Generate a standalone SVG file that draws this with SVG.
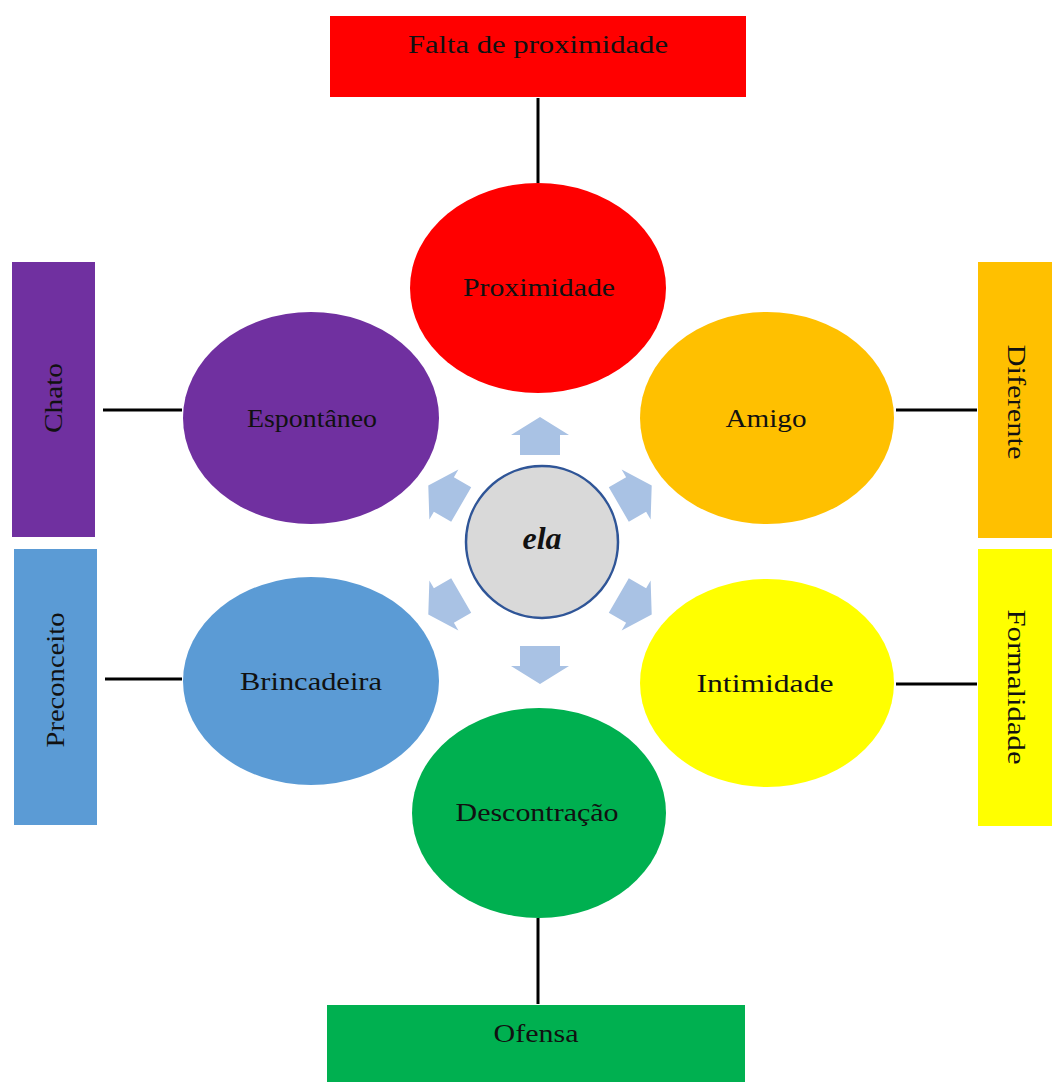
<svg xmlns="http://www.w3.org/2000/svg" width="1052" height="1082" viewBox="0 0 1052 1082">
<style>
text{font-family:"Liberation Serif","Times New Roman",serif;font-size:25px;text-anchor:middle;dominant-baseline:central;fill:#111}
.conn line{stroke:#000;stroke-width:3}
.arr{fill:#a9c2e4}
</style>
<defs>
<path id="arrow" d="M0,-19 L29,-1 L20,-1 L20,19 L-20,19 L-20,-1 L-29,-1 Z"/>
</defs>
<rect width="1052" height="1082" fill="#fff"/>
<g class="conn">
<line x1="538" y1="98" x2="538" y2="183"/>
<line x1="538" y1="918" x2="538" y2="1004"/>
<line x1="103" y1="410" x2="182" y2="410"/>
<line x1="105" y1="679" x2="182" y2="679"/>
<line x1="896" y1="410" x2="977" y2="410"/>
<line x1="896" y1="684" x2="977" y2="684"/>
</g>
<g id="arrows" class="arr">
<use href="#arrow" transform="translate(540,550) rotate(0) translate(0,-114)"/>
<use href="#arrow" transform="translate(540,550) rotate(60) translate(0,-110)"/>
<use href="#arrow" transform="translate(540,550) rotate(120) translate(0,-110)"/>
<use href="#arrow" transform="translate(540,550) rotate(180) translate(0,-115)"/>
<use href="#arrow" transform="translate(540,550) rotate(240) translate(0,-110)"/>
<use href="#arrow" transform="translate(540,550) rotate(300) translate(0,-110)"/>
</g>
<g id="falta"><rect x="330" y="16" width="416" height="81" fill="#ff0000"/><text x="538" y="44" fill="#4a0000" textLength="260" lengthAdjust="spacingAndGlyphs">Falta de proximidade</text></g>
<g id="ofensa"><rect x="327" y="1005" width="418" height="77" fill="#00b050"/><text x="536" y="1033" fill="#0b3d1c" textLength="85" lengthAdjust="spacingAndGlyphs">Ofensa</text></g>
<g id="chato"><rect x="12" y="262" width="83" height="275" fill="#7030a0"/><text transform="translate(53,398) rotate(-90)" fill="#3a1458" textLength="70" lengthAdjust="spacingAndGlyphs">Chato</text></g>
<g id="preconceito"><rect x="14" y="549" width="83" height="276" fill="#5b9bd5"/><text transform="translate(55,680) rotate(-90)" fill="#1c2a44" textLength="135" lengthAdjust="spacingAndGlyphs">Preconceito</text></g>
<g id="diferente"><rect x="978" y="262" width="74" height="276" fill="#ffc000"/><text transform="translate(1016,402) rotate(90)" fill="#2a1c00" textLength="115" lengthAdjust="spacingAndGlyphs">Diferente</text></g>
<g id="formalidade"><rect x="978" y="549" width="74" height="277" fill="#ffff00"/><text transform="translate(1016,687) rotate(90)" fill="#222" textLength="155" lengthAdjust="spacingAndGlyphs">Formalidade</text></g>
<g id="proximidade"><ellipse cx="538" cy="288" rx="128" ry="105" fill="#ff0000"/><text x="539" y="287" fill="#3a0000" textLength="152" lengthAdjust="spacingAndGlyphs">Proximidade</text></g>
<g id="espontaneo"><ellipse cx="311" cy="418" rx="128" ry="106" fill="#7030a0"/><text x="312" y="418" fill="#1a0a28" textLength="130" lengthAdjust="spacingAndGlyphs">Espontâneo</text></g>
<g id="amigo"><ellipse cx="767" cy="418" rx="127" ry="106" fill="#ffc000"/><text x="766" y="418" textLength="81" lengthAdjust="spacingAndGlyphs">Amigo</text></g>
<g id="brincadeira"><ellipse cx="311" cy="681" rx="128" ry="104" fill="#5b9bd5"/><text x="311" y="681" textLength="142" lengthAdjust="spacingAndGlyphs">Brincadeira</text></g>
<g id="intimidade"><ellipse cx="767" cy="683" rx="127" ry="104" fill="#ffff00"/><text x="765" y="683" textLength="137" lengthAdjust="spacingAndGlyphs">Intimidade</text></g>
<g id="descontracao"><ellipse cx="539" cy="813" rx="127" ry="105" fill="#00b050"/><text x="537" y="812" fill="#0a2a14" textLength="163" lengthAdjust="spacingAndGlyphs">Descontração</text></g>
<g id="ela"><circle cx="542" cy="542" r="76" fill="#d9d9d9" stroke="#2f5597" stroke-width="2.5"/><text x="542" y="538" style="font-size:32px;font-weight:bold;font-style:italic" fill="#000">ela</text></g>
</svg>
